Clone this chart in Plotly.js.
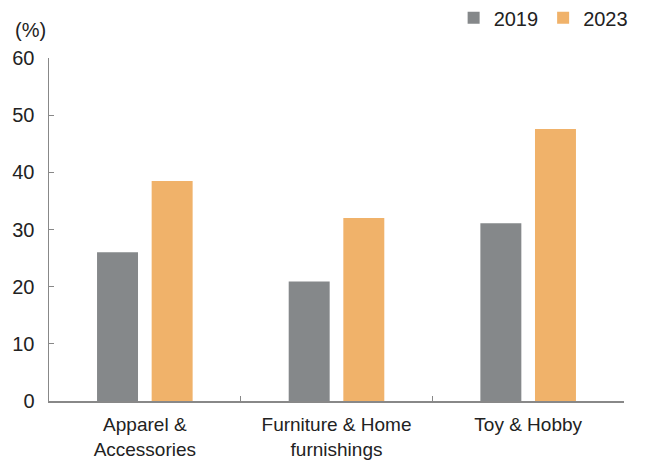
<!DOCTYPE html>
<html>
<head>
<meta charset="utf-8">
<script src="https://cdn.plot.ly/plotly-3.0.1.min.js"></script>
<style>html,body{margin:0;padding:0;background:#fff;}#chart{width:645px;height:467px;}</style>
</head>
<body>
<div id="chart"></div>
<script>
const categories = ["Apparel &<br>Accessories", "Furniture & Home<br>furnishings", "Toy & Hobby"];
const series2019 = [26.0, 20.9, 31.1];
const series2023 = [38.5, 32.0, 47.6];
const yTicks = [0, 10, 20, 30, 40, 50, 60];

const fam = "Liberation Sans, Arial, sans-serif";
const txt = "#222";

const data = [
  {type: "bar", name: "2019", x: categories, y: series2019, marker: {color: "#85888A"}},
  {type: "bar", name: "2023", x: categories, y: series2023, marker: {color: "#F0B26A"}}
];

const layout = {
  width: 645, height: 467,
  margin: {l: 49, r: 21, t: 58, b: 66, autoexpand: false},
  paper_bgcolor: "#fff", plot_bgcolor: "#fff",
  font: {family: fam, size: 19, color: txt},
  barmode: "group",
  bargap: 0.43,
  bargroupgap: 0.25,
  showlegend: true,
  legend: {orientation: "h", x: 1.015, xanchor: "right", y: 1.117, yanchor: "middle",
           font: {family: fam, size: 20, color: txt}, itemwidth: 30, traceorder: "normal"},
  xaxis: {
    type: "category",
    showline: true, linecolor: "#888", linewidth: 1.5,
    ticks: "inside", tickson: "boundaries", ticklen: 5, tickcolor: "#888", tickwidth: 1,
    showgrid: false, zeroline: false,
    tickfont: {family: fam, size: 19, color: txt},
    ticklabelstandoff: 6,
    fixedrange: true
  },
  yaxis: {
    range: [0, 60], tickvals: yTicks, ticktext: yTicks.map(String),
    showline: true, linecolor: "#888", linewidth: 1.5,
    ticks: "inside", ticklen: 5, tickcolor: "#888", tickwidth: 1,
    showgrid: false, zeroline: false,
    tickfont: {family: fam, size: 20, color: txt},
    ticklabelstandoff: 9
  },
  annotations: [
    {text: "(%)", xref: "paper", yref: "paper", x: -0.062, y: 1.045, xanchor: "left", yanchor: "bottom",
     showarrow: false, font: {family: fam, size: 20, color: txt}}
  ]
};

Plotly.newPlot("chart", data, layout, {displayModeBar: false, staticPlot: true});
</script>
</body>
</html>
